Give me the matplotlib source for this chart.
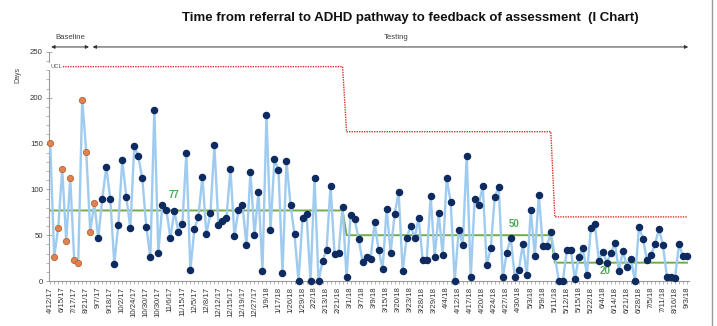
import numpy as np
import matplotlib
matplotlib.use("Agg")
import matplotlib.pyplot as plt
from matplotlib.lines import Line2D

plt.rcParams['font.family'] = ['Liberation Sans', 'DejaVu Sans']

# ---------------- data ----------------
values = [151, 26, 58, 122, 44, 112, 23, 20, 198, 141, 54, 85,
          47, 90, 124, 90, 19, 61, 132, 92, 58, 147, 136, 112, 59, 26, 187, 31,
          83, 78, 47, 76, 54, 62, 140, 12, 57, 70, 114, 51, 74, 148, 61, 66,
          69, 122, 49, 77, 83, 39, 119, 50, 97, 11, 181, 56, 133, 121, 9, 131,
          83, 51, 0, 69, 73, 0, 112, 0, 22, 34, 104, 29, 31, 81,
          4, 72, 68, 46, 21, 26, 24, 64, 34, 13, 79, 31, 73, 97, 11, 47,
          60, 47, 69, 23, 23, 93, 26, 74, 28, 112, 86, 0, 56, 39, 137, 4,
          90, 83, 104, 17, 36, 92, 103, 4, 31, 47, 4, 12, 40, 7, 77, 27,
          94, 38, 38, 53,
          27, 0, 0, 34, 34, 2, 26, 36, 7, 58, 62, 22, 32, 20, 31, 41,
          11, 33, 15, 24, 0, 59, 46, 23, 28, 40, 57, 39, 4, 4, 3, 40, 27, 27]

baseline_count = 12
phase_lengths = [74, 52, 34]
centre_values = [77, 50, 20]
ucl_values = [234, 163, 70]

tick_labels = ["4/12/17", "6/15/17", "7/17/17", "8/21/17", "9/7/17", "9/18/17",
               "10/2/17", "10/24/17", "10/30/17", "10/30/17", "11/6/17", "11/15/17",
               "12/5/17", "12/8/17", "12/12/17", "12/15/17", "12/19/17", "12/27/17",
               "1/9/18", "1/17/18", "1/26/18", "1/29/18", "2/2/18", "2/13/18",
               "2/21/18", "3/1/18", "3/7/18", "3/9/18", "3/15/18", "3/20/18",
               "3/23/18", "3/28/18", "3/29/18", "4/4/18", "4/12/18", "4/17/18",
               "4/20/18", "4/24/18", "4/27/18", "4/30/18", "5/3/18", "5/9/18",
               "5/11/18", "5/12/18", "5/15/18", "5/22/18", "6/4/18", "6/14/18",
               "6/21/18", "6/28/18", "7/5/18", "7/11/18", "8/16/18", "9/3/18"]
label_step = 3

# ---------------- figure ----------------
W, H = 717, 326
fig = plt.figure(figsize=(W / 100, H / 100), dpi=100)
ax = fig.add_axes([49 / W, 45 / H, 640 / W, 229 / H])

vals = np.array(values, dtype=float)
x = np.arange(len(vals))
cl = np.repeat(centre_values, phase_lengths)
ucl = np.repeat(ucl_values, phase_lengths)

blue = '#9fcbef'
navy = '#0e2a5e'
orange = '#dd8452'
green = '#70ad47'
red = '#d9302c'

ax.plot(x, ucl, color=red, lw=1.0, linestyle=(0, (1, 0.8)), zorder=2)
ax.plot(x, cl, color=green, lw=1.4, zorder=2)
ax.plot(x, vals, color=blue, lw=1.7, zorder=3)
ax.plot(x[baseline_count:], vals[baseline_count:], 'o', ms=4.4, color=navy,
        mec=navy, zorder=4, clip_on=False)
ax.plot(x[:baseline_count], vals[:baseline_count], 'o', ms=4.5, color=orange,
        mec='#b8622f', mew=0.6, zorder=4, clip_on=False)

# centre line labels
lab_kw = dict(color='#4dab5a', fontsize=7, fontweight='bold', ha='center', va='center')
ax.text(30.8, 94, str(centre_values[0]), **lab_kw)
ax.text(115.7, 62, str(centre_values[1]), **lab_kw)
ax.text(138.5, 11, str(centre_values[2]), **lab_kw)
ax.text(0.0, 234, "UCL", fontsize=4.2, color='#555555', ha='left', va='center',
        bbox=dict(facecolor='white', edgecolor='none', pad=0.6), zorder=5)

ax.set_xlim(-0.3, len(vals) - 0.5)
ax.set_ylim(0, 250)
ax.set_yticks(np.arange(0, 251, 50))
ax.set_yticks(np.arange(0, 251, 10), minor=True)
ax.set_xticks(x)
xl = ['' for _ in x]
for i, lab in enumerate(tick_labels):
    xl[i * label_step] = lab
ax.set_xticklabels(xl, rotation=90, fontsize=5.6, color='#333333')
ax.tick_params(axis='x', length=2.5, width=0.5, color='#9a9a9a', pad=1.5)
ax.tick_params(axis='y', which='major', direction='inout', length=5, width=0.6,
               color='#9a9a9a', labelsize=5.6, labelcolor='#333333', pad=2)
ax.tick_params(axis='y', which='minor', direction='out', length=2, width=0.5,
               color='#9a9a9a')
for s in ['top', 'right']:
    ax.spines[s].set_visible(False)
for s in ['left', 'bottom']:
    ax.spines[s].set_color('#9a9a9a')
    ax.spines[s].set_linewidth(0.8)

fig.text(18 / W, 1 - 75 / H, "Days", rotation=90, fontsize=5, color='#404040',
         ha='center', va='center')

# title
fig.text(410 / W, 1 - 18 / H,
         "Time from referral to ADHD pathway to feedback of assessment  (I Chart)",
         fontsize=9.5, fontweight='bold', ha='center', va='center', color='#111111')

# phase arrows
arr = dict(arrowstyle='<|-|>', mutation_scale=5, lw=0.7, color='#333333',
           shrinkA=0, shrinkB=0)
ax.annotate('', xy=(0.25, 255.5), xytext=(9.7, 255.5), arrowprops=arr,
            annotation_clip=False)
ax.annotate('', xy=(10.6, 255.5), xytext=(159.3, 255.5), arrowprops=arr,
            annotation_clip=False)
ax.text(4.9, 262, "Baseline", fontsize=5.6, color='#404040', ha='center',
        va='bottom', clip_on=False)
ax.text(86.5, 262, "Testing", fontsize=5.6, color='#404040', ha='center',
        va='bottom', clip_on=False)

fig.add_artist(Line2D([711.5 / W] * 2, [0, 1], transform=fig.transFigure,
                      color='#9a9a9a', lw=1.0))

fig.savefig('out.png', dpi=100, facecolor='white')
